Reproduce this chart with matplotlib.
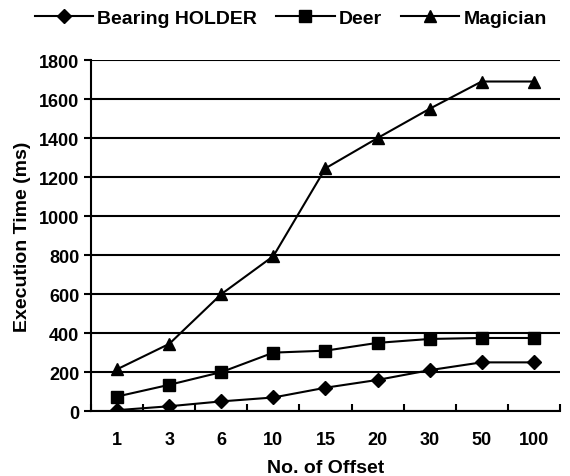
import matplotlib
matplotlib.use("Agg")
import matplotlib.pyplot as plt

categories = ["1", "3", "6", "10", "15", "20", "30", "50", "100"]
bearing = [5, 25, 50, 70, 120, 160, 210, 250, 250]
deer = [75, 135, 200, 300, 310, 350, 370, 375, 375]
magician = [215, 345, 600, 795, 1245, 1400, 1550, 1690, 1690]
yticks = [0, 200, 400, 600, 800, 1000, 1200, 1400, 1600, 1800]

plt.rcParams['font.family'] = ['Liberation Sans', 'DejaVu Sans']
fig = plt.figure(figsize=(5.7, 4.77), dpi=100)
ax = fig.add_axes([0.16, 0.136, 0.822, 0.736])

x = list(range(len(categories)))
ax.plot(x, bearing, color='black', lw=1.5, marker='D', ms=7, label='Bearing HOLDER')
ax.plot(x, deer, color='black', lw=1.5, marker='s', ms=9, label='Deer')
ax.plot(x, magician, color='black', lw=1.5, marker='^', ms=9, label='Magician')

ax.set_xlim(-0.5, len(categories) - 0.5)
ax.set_ylim(0, 1800)
ax.set_yticks(yticks)
ax.set_yticklabels([str(v) for v in yticks], fontsize=13, fontweight='bold')
ax.yaxis.grid(True, color='black', lw=1.5)
ax.set_axisbelow(True)
ax.set_xticks([i - 0.5 for i in range(len(categories) + 1)], minor=False)
ax.set_xticklabels([])
ax.set_xticks(x, minor=True)
ax.set_xticklabels(categories, minor=True, fontsize=13, fontweight='bold')
ax.tick_params(axis='x', which='minor', length=0, pad=14)
ax.tick_params(axis='x', which='major', length=5, width=1.5, direction='in')
ax.tick_params(axis='y', length=5, width=1.5, direction='out')
for s in ['top', 'right']:
    ax.spines[s].set_visible(False)
for s in ['left', 'bottom']:
    ax.spines[s].set_linewidth(1.5)

ax.set_xlabel('No. of Offset', fontsize=14, fontweight='bold', labelpad=8)
ax.set_ylabel('Execution Time (ms)', fontsize=14, fontweight='bold', labelpad=6)

leg = fig.legend(loc='upper center', bbox_to_anchor=(0.51, 1.015), ncol=3, frameon=False,
                 prop={'size': 14, 'weight': 'bold'}, handlelength=3.0, columnspacing=1.0,
                 handletextpad=0.2)
fig.savefig('out.png', dpi=100)
